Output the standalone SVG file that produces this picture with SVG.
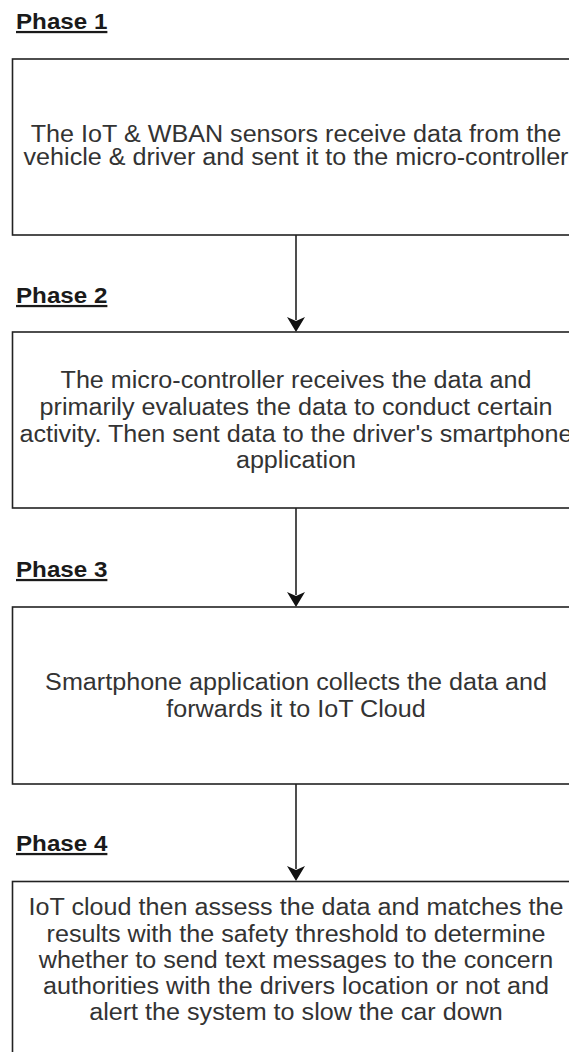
<svg xmlns="http://www.w3.org/2000/svg" width="569" height="1052" viewBox="0 0 569 1052">
  <style>
    .box { fill: #ffffff; stroke: #222222; stroke-width: 1.6; }
    .phase { font-family: "Liberation Sans", Arial, sans-serif; font-size: 22.5px; font-weight: bold; fill: #1a1a1a; text-decoration: underline; }
    .body { font-family: "Liberation Sans", Arial, sans-serif; font-size: 23.4px; fill: #333333; text-anchor: middle; }
    .edge { stroke: #222222; stroke-width: 1.6; fill: none; }
    .head { fill: #111111; stroke: none; }
  </style>
  <rect x="0" y="0" width="569" height="1052" fill="#ffffff"/>

  <!-- Connectors between phases -->
  <g id="connectors">
    <line class="edge" x1="296" y1="235" x2="296" y2="320"/>
    <path class="head" d="M296,332 L287,317 L296,321 L305,317 Z"/>
    <line class="edge" x1="296" y1="508" x2="296" y2="595"/>
    <path class="head" d="M296,607 L287,592 L296,596 L305,592 Z"/>
    <line class="edge" x1="296" y1="784" x2="296" y2="869"/>
    <path class="head" d="M296,881 L287,866 L296,870 L305,866 Z"/>
  </g>

  <!-- Phase 1 -->
  <g id="phase1">
    <text class="phase" transform="translate(16,29) scale(1.075,1)">Phase 1</text>
    <rect class="box" x="12.5" y="59" width="580" height="176"/>
    <g transform="translate(296,0) scale(1.075,1)">
      <text class="body" x="0" y="141.7">The IoT &amp; WBAN sensors receive data from the</text>
      <text class="body" x="0" y="165">vehicle &amp; driver and sent it to the micro-controller</text>
    </g>
  </g>

  <!-- Phase 2 -->
  <g id="phase2">
    <text class="phase" transform="translate(16,303) scale(1.075,1)">Phase 2</text>
    <rect class="box" x="12.5" y="332" width="580" height="176"/>
    <g transform="translate(296,0) scale(1.075,1)">
      <text class="body" x="0" y="388">The micro-controller receives the data and</text>
      <text class="body" x="0" y="415">primarily evaluates the data to conduct certain</text>
      <text class="body" x="0" y="441.7">activity. Then sent data to the driver's smartphone</text>
      <text class="body" x="0" y="468.5">application</text>
    </g>
  </g>

  <!-- Phase 3 -->
  <g id="phase3">
    <text class="phase" transform="translate(16,577) scale(1.075,1)">Phase 3</text>
    <rect class="box" x="12.5" y="607" width="580" height="177"/>
    <g transform="translate(296,0) scale(1.075,1)">
      <text class="body" x="0" y="690">Smartphone application collects the data and</text>
      <text class="body" x="0" y="717">forwards it to IoT Cloud</text>
    </g>
  </g>

  <!-- Phase 4 -->
  <g id="phase4">
    <text class="phase" transform="translate(16,851) scale(1.075,1)">Phase 4</text>
    <rect class="box" x="12.5" y="881.5" width="580" height="190"/>
    <g transform="translate(296,0) scale(1.075,1)">
      <text class="body" x="0" y="915">IoT cloud then assess the data and matches the</text>
      <text class="body" x="0" y="941.7">results with the safety threshold to determine</text>
      <text class="body" x="0" y="968">whether to send text messages to the concern</text>
      <text class="body" x="0" y="994">authorities with the drivers location or not and</text>
      <text class="body" x="0" y="1020">alert the system to slow the car down</text>
    </g>
  </g>
</svg>
